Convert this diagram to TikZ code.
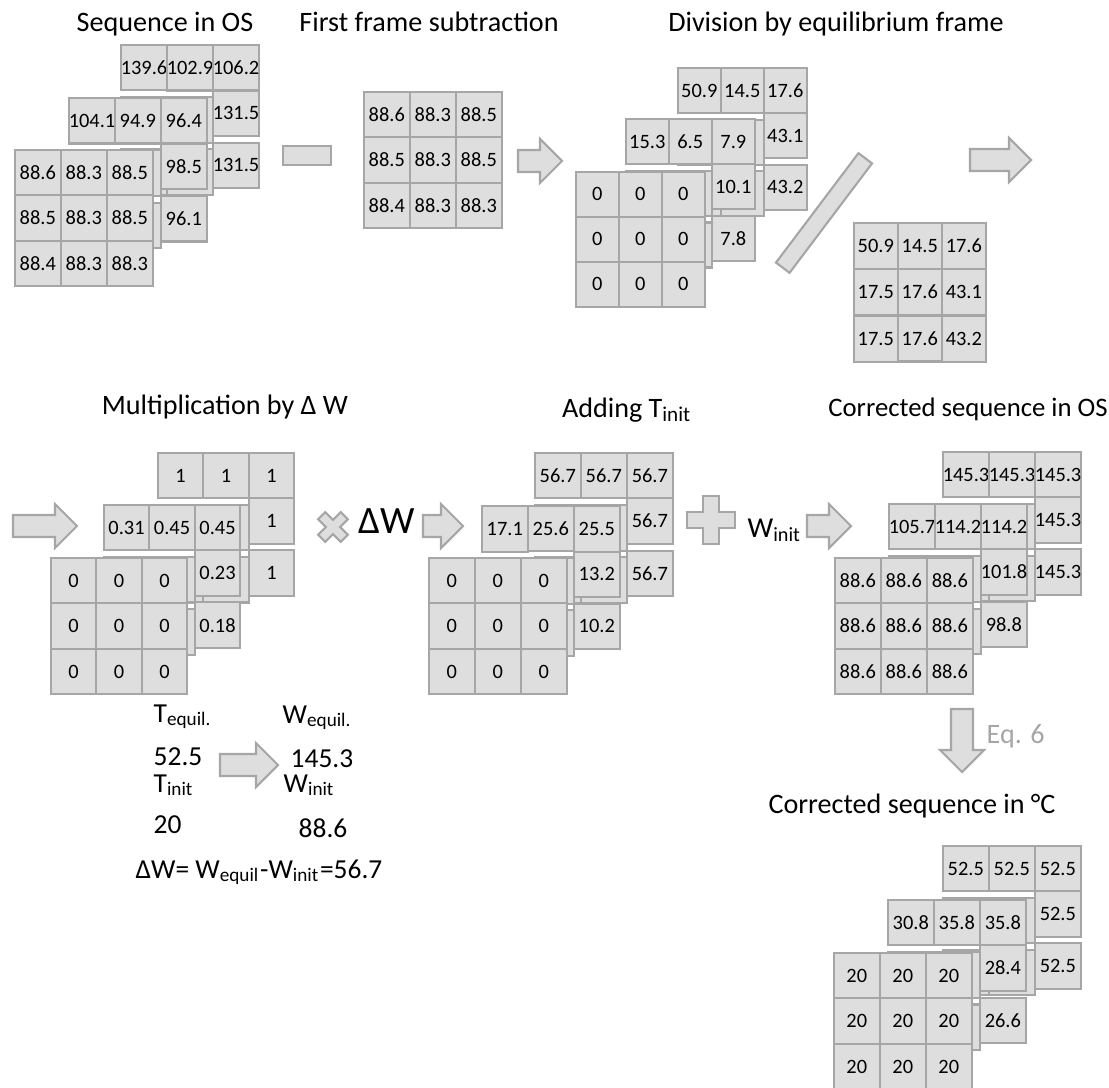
\documentclass[tikz,border=0pt]{standalone}
\usepackage{fontspec}
\setmainfont{Carlito}
\usetikzlibrary{matrix}
\definecolor{cellfill}{HTML}{DEDEDE}
\definecolor{cellline}{HTML}{A6A6A6}
\definecolor{eqgray}{HTML}{A6A6A6}

\begin{document}
\begin{tikzpicture}[
x=0.01cm, y=-0.01cm,
cell/.style={draw=cellline, fill=cellfill, line width=0.6pt, inner sep=0pt,
  text width=0.46cm, align=center, minimum height=0.455cm, font=\fontsize{5.8}{7}\selectfont},
grid/.style={matrix of nodes, nodes in empty cells, anchor=north west, inner sep=0pt,
  column sep=-0.6pt, row sep=-0.6pt, nodes={cell}},
cellsize/.style 2 args={nodes={text width=#1, minimum height=#2}},
blockshape/.style={draw=cellline, fill=cellfill, line width=0.6pt, line join=miter},
title/.style={anchor=base, font=\fontsize{8}{9.6}\selectfont},
note/.style={anchor=base west, inner sep=0pt, font=\fontsize{7.8}{9}\selectfont},
pics/fatarrow/.style={code={
  \draw[blockshape] (0,-11) -- ({#1-22},-11) -- ({#1-22},-22) -- (#1,0)
    -- ({#1-22},22) -- ({#1-22},11) -- (0,11) -- cycle;
}},
pics/crossmark/.style 2 args={code={
  \draw[blockshape] (#2,#1) -- (#2,#2) -- (#1,#2) -- (#1,-#2) -- (#2,-#2) -- (#2,-#1)
    -- (-#2,-#1) -- (-#2,-#2) -- (-#1,-#2) -- (-#1,#2) -- (-#2,#2) -- (-#2,#1) -- cycle;
}}
]
\useasboundingbox (0,0) rectangle (1109,1088);

% Titles
\node[title] (tseq) at (165,32) {Sequence in OS};
\node[title] (tsub) at (429,32) {First frame subtraction};
\node[title] (tdiv) at (836,32) {Division by equilibrium frame};
\node[title] (tmul) at (225,414) {Multiplication by Δ W};
\node[title] (tadd) at (627,417) {Adding T\textsubscript{init}};
\node[title, font=\fontsize{7.6}{9}\selectfont] (tcos) at (968,416) {Corrected sequence in OS};
\node[title] (tdeg) at (912,813) {Corrected sequence in °C};

% Sequence in OS
\matrix (seqc) at (119,43) [grid] {139.6 & 102.9 & 106.2 \\ & & 131.5 \\ & & 131.5 \\};
\matrix (seqb) at (67,96) [grid] {104.1 & 94.9 & 96.4 \\ & & 98.5 \\ & & 96.1 \\};
\matrix (seqa) at (13,148) [grid] {88.6 & 88.3 & 88.5 \\ 88.5 & 88.3 & 88.5 \\ 88.4 & 88.3 & 88.3 \\};

% First frame
\draw[blockshape] (283,146) rectangle (331,165);
\matrix (first) at (362,90) [grid] {88.6 & 88.3 & 88.5 \\ 88.5 & 88.3 & 88.5 \\ 88.4 & 88.3 & 88.3 \\};
\pic at (518,161) {fatarrow=44};

% Division by equilibrium frame
\matrix (divc) at (676,66) [grid, cellsize={0.43cm}{0.45cm}] {50.9 & 14.5 & 17.6 \\ & & 43.1 \\ & & 43.2 \\};
\matrix (divb) at (624,117) [grid, cellsize={0.43cm}{0.45cm}] {15.3 & 6.5 & 7.9 \\ & & 10.1 \\ & & 7.8 \\};
\matrix (diva) at (574,170) [grid, cellsize={0.43cm}{0.45cm}] {0 & 0 & 0 \\ 0 & 0 & 0 \\ 0 & 0 & 0 \\};
\node[blockshape, minimum width=1.37cm, minimum height=0.17cm, inner sep=0pt, rotate=53] (slash) at (824,213) {};
\matrix (equil) at (852,221) [grid, cellsize={0.44cm}{0.46cm}] {50.9 & 14.5 & 17.6 \\ 17.5 & 17.6 & 43.1 \\ 17.5 & 17.6 & 43.2 \\};
\pic at (970,160) {fatarrow=61};

% Multiplication by Delta W
\pic at (13,526) {fatarrow=64};
\matrix (mulc) at (156,451) [grid, cellsize={0.455cm}{0.455cm}] {1 & 1 & 1 \\ & & 1 \\ & & 1 \\};
\matrix (mulb) at (102,503) [grid, cellsize={0.455cm}{0.455cm}] {0.31 & 0.45 & 0.45 \\ & & 0.23 \\ & & 0.18 \\};
\matrix (mula) at (49,556) [grid, cellsize={0.455cm}{0.455cm}] {0 & 0 & 0 \\ 0 & 0 & 0 \\ 0 & 0 & 0 \\};
\pic[rotate=45] at (333,527) {crossmark={16}{5}};
\node[anchor=base, inner sep=0pt, font=\fontsize{11}{13}\selectfont] (dw) at (387,533) {ΔW};

% Adding T init
\pic at (423,526) {fatarrow=40};
\matrix (addc) at (533,451) [grid] {56.7 & 56.7 & 56.7 \\ & & 56.7 \\ & & 56.7 \\};
\matrix (addb) at (480,504) [grid] {17.1 & 25.6 & 25.5 \\ & & 13.2 \\ & & 10.2 \\};
\matrix (adda) at (427,556) [grid] {0 & 0 & 0 \\ 0 & 0 & 0 \\ 0 & 0 & 0 \\};
\pic at (711,520) {crossmark={24}{8}};
\node[anchor=base west, inner sep=0pt, font=\fontsize{8.2}{10}\selectfont] (winit) at (747,537) {W\textsubscript{init}};

% Corrected sequence in OS
\pic at (807,526) {fatarrow=44};
\matrix (cosc) at (941,450) [grid] {145.3 & 145.3 & 145.3 \\ & & 145.3 \\ & & 145.3 \\};
\matrix (cosb) at (887,502) [grid] {105.7 & 114.2 & 114.2 \\ & & 101.8 \\ & & 98.8 \\};
\matrix (cosa) at (833,556) [grid] {88.6 & 88.6 & 88.6 \\ 88.6 & 88.6 & 88.6 \\ 88.6 & 88.6 & 88.6 \\};
\pic[rotate=-90] at (962,709) {fatarrow=63};
\node[anchor=base west, inner sep=0pt, text=eqgray, font=\fontsize{8}{10}\selectfont] (eq) at (986,743) {Eq. 6};

% Corrected sequence in degrees
\matrix (degc) at (941,844) [grid] {52.5 & 52.5 & 52.5 \\ & & 52.5 \\ & & 52.5 \\};
\matrix (degb) at (886,898) [grid] {30.8 & 35.8 & 35.8 \\ & & 28.4 \\ & & 26.6 \\};
\matrix (dega) at (832,951) [grid] {20 & 20 & 20 \\ 20 & 20 & 20 \\ 20 & 20 & 20 \\};

% Calibration values
\node[note] (tequil) at (153,722) {T\textsubscript{equil.}};
\node[note] (tequilv) at (153,765) {52.5};
\node[note] (tini) at (153,792) {T\textsubscript{init}};
\node[note] (tiniv) at (153,833) {20};
\pic at (220,765) {fatarrow=58};
\node[note] (wequil) at (282,723) {W\textsubscript{equil.}};
\node[note] (wequilv) at (290,767) {145.3};
\node[note] (wini) at (283,792) {W\textsubscript{init}};
\node[note] (winiv) at (298,837) {88.6};
\node[note] (dwdef) at (135,878) {ΔW= W\textsubscript{equil}-W\textsubscript{init}=56.7};
\end{tikzpicture}
\end{document}
